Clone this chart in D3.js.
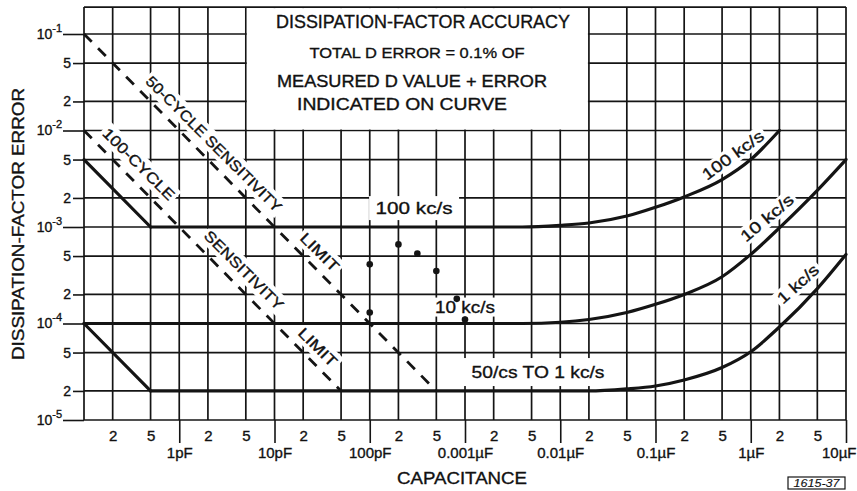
<!DOCTYPE html>
<html><head><meta charset="utf-8">
<script src="https://cdn.jsdelivr.net/npm/d3@7"></script>
<style>
body{margin:0;background:#fff}
text{font-family:"Liberation Sans",Arial,sans-serif;fill:#111;stroke:#111;stroke-width:0.35px}
</style>
</head><body><svg id="c" width="857" height="491"></svg>
<script>
// ---------- data (capacitance in pF, dissipation-factor error) ----------
const capDecades = [1, 10, 100, 1000, 10000, 100000, 1000000, 10000000];
const capDecadeLabels = ["1pF", "10pF", "100pF", "0.001µF", "0.01µF", "0.1µF", "1µF", "10µF"];
const capMinor = [0.2, 0.5, 2, 5, 20, 50, 200, 500, 2000, 5000, 20000, 50000, 200000, 500000, 2000000, 5000000];
const capMinorLabels = ["2", "5", "2", "5", "2", "5", "2", "5", "2", "5", "2", "5", "2", "5", "2", "5"];
const dDecades = [1e-5, 1e-4, 1e-3, 1e-2, 1e-1];
const dDecadeExp = ["-5", "-4", "-3", "-2", "-1"];
const dMinor = [2e-5, 5e-5, 2e-4, 5e-4, 2e-3, 5e-3, 2e-2, 5e-2];
const dMinorLabels = ["2", "5", "2", "5", "2", "5", "2", "5"];

// 100 kc/s curve
const cap100k = [0.1, 0.5, 4000, 10000, 20000, 50000, 100000, 200000, 500000, 1000000, 2000000];
const d100k   = [5e-3, 1e-3, 1e-3, 1.04e-3, 1.1e-3, 1.3e-3, 1.6e-3, 2.05e-3, 3.1e-3, 5e-3, 1e-2];
// 10 kc/s curve
const cap10k = [0.1, 4000, 10000, 20000, 50000, 100000, 200000, 500000, 1000000, 2000000, 5000000, 10000000];
const d10k   = [1e-4, 1e-4, 1.03e-4, 1.1e-4, 1.3e-4, 1.58e-4, 2e-4, 3.05e-4, 5.2e-4, 9.8e-4, 2.4e-3, 5e-3];
// 50 c/s to 1 kc/s curve
const cap1k = [0.1, 0.5, 20000, 50000, 100000, 200000, 500000, 1000000, 2000000, 5000000, 10000000];
const d1k   = [1e-4, 2e-5, 2e-5, 2.1e-5, 2.25e-5, 2.6e-5, 3.5e-5, 5.1e-5, 9.2e-5, 2.3e-4, 5.2e-4];
// sensitivity limits (dashed)
const cap50c = [0.1, 500];
const d50c   = [1e-1, 2e-5];
const cap100c = [0.1, 50];
const d100c   = [1e-2, 2e-5];
// measured points
const capDots = [100, 200, 316, 500, 820, 1000, 100];
const dDots   = [4.1e-4, 6.6e-4, 5.3e-4, 3.5e-4, 1.8e-4, 1.1e-4, 1.3e-4];

// ---------- chart ----------
const svg = d3.select("#c");
const x = d3.scaleLog().domain([0.1, 1e7]).range([84, 846]);
const y = d3.scaleLog().domain([1e-5, 1e-1]).range([420, 34]);
const yTop = y(0.19);
const ink = "#141414";

// grid
const gx = [0.1, ...capDecades, ...capMinor];
const gy = [...dDecades, ...dMinor];
const grid = svg.append("g").attr("stroke", ink).attr("stroke-width", 1.7);
gx.forEach(v => grid.append("line").attr("x1", x(v)).attr("x2", x(v)).attr("y1", yTop).attr("y2", y(1e-5)));
gy.forEach(v => grid.append("line").attr("x1", x(0.1)).attr("x2", x(1e7)).attr("y1", y(v)).attr("y2", y(v)));
grid.append("line").attr("x1", x(0.1)).attr("x2", x(1e7)).attr("y1", yTop).attr("y2", yTop);

// title box (white, bounded by grid lines)
svg.append("rect").attr("x", x(5) + 1).attr("y", yTop + 1)
  .attr("width", x(20000) - x(5) - 2).attr("height", y(1e-2) - yTop - 2).attr("fill", "#fff");

// white backgrounds behind labels
function bgRect(cx, cy, w, h, ang) {
  svg.append("rect").attr("x", -w / 2).attr("y", -h / 2).attr("width", w).attr("height", h)
    .attr("fill", "#fff").attr("transform", `translate(${cx},${cy}) rotate(${ang})`);
}
const labels = [
  {t: "100 kc/s", c: 292, d: 1.57e-3, a: 0, w: 77, fs: 17, bw: 90, bh: 24},
  {t: "10 kc/s", c: 1000, d: 1.48e-4, a: 0, w: 60, fs: 17, bw: 66, bh: 19},
  {t: "50/cs  TO  1 kc/s", c: 5840, d: 3.14e-5, a: 0, w: 133, fs: 17, bw: 176, bh: 28},
  {t: "100 kc/s", c: 6.5e5, d: 5.57e-3, a: -36, w: 72, fs: 16, bw: 78, bh: 18},
  {t: "10 kc/s", c: 1.48e6, d: 1.24e-3, a: -40, w: 64, fs: 16, bw: 70, bh: 18},
  {t: "1 kc/s", c: 3.13e6, d: 2.57e-4, a: -42, w: 50, fs: 16, bw: 56, bh: 18},
  {t: "50-CYCLE SENSITIVITY", c: 2.32, d: 7.3e-3, a: 45, w: 185, fs: 15, bw: 190, bh: 20},
  {t: "LIMIT", c: 30, d: 5.5e-4, a: 45, w: 48, fs: 15, bw: 54, bh: 20},
  {t: "100-CYCLE", c: 0.378, d: 4.5e-3, a: 45, w: 95, fs: 15, bw: 100, bh: 20},
  {t: "SENSITIVITY", c: 4.79, d: 3.58e-4, a: 45, w: 105, fs: 15, bw: 110, bh: 20},
  {t: "LIMIT", c: 28.6, d: 5.7e-5, a: 45, w: 48, fs: 15, bw: 54, bh: 20}
];
labels.forEach(l => bgRect(x(l.c), y(l.d), l.bw, l.bh, l.a));

// curves
const line = d3.line().x(d => x(d[0])).y(d => y(d[1]));
const mono = d3.line().x(d => x(d[0])).y(d => y(d[1])).curve(d3.curveMonotoneX);
function drawCurve(caps, ds, knee) {
  const pts = caps.map((c, i) => [c, ds[i]]);
  const g = svg.append("g").attr("fill", "none").attr("stroke", ink).attr("stroke-width", 3.2).attr("stroke-linecap", "round");
  if (knee > 0) g.append("path").attr("d", line(pts.slice(0, knee + 1)));
  g.append("path").attr("d", mono(pts.slice(knee)));
}
drawCurve(cap100k, d100k, 1);
drawCurve(cap10k, d10k, 0);
drawCurve(cap1k, d1k, 1);

function drawDash(caps, ds) {
  svg.append("path").attr("d", line(caps.map((c, i) => [c, ds[i]])))
    .attr("fill", "none").attr("stroke", ink).attr("stroke-width", 2.8).attr("stroke-dasharray", "11,9");
}
drawDash(cap50c, d50c);
drawDash(cap100c, d100c);

// measured points
svg.append("g").selectAll("circle").data(capDots).join("circle")
  .attr("cx", (c) => x(c)).attr("cy", (c, i) => y(dDots[i])).attr("r", 3.3).attr("fill", ink);

// labels text
labels.forEach(l => {
  svg.append("text").attr("transform", `translate(${x(l.c)},${y(l.d)}) rotate(${l.a})`)
    .attr("text-anchor", "middle").attr("dominant-baseline", "central")
    .attr("font-size", l.fs).attr("textLength", l.w).attr("lengthAdjust", "spacingAndGlyphs").text(l.t);
});

// axes
const axB = svg.append("g").attr("transform", `translate(0,${y(1e-5)})`)
  .call(d3.axisBottom(x).tickValues(capDecades).tickSize(23).tickPadding(4)
    .tickFormat((d, i) => capDecadeLabels[i]));
const axB2 = svg.append("g").attr("transform", `translate(0,${y(1e-5)})`)
  .call(d3.axisBottom(x).tickValues(capMinor).tickSize(0).tickPadding(10)
    .tickFormat((d, i) => capMinorLabels[i]));
const axL = svg.append("g").attr("transform", `translate(${x(0.1)},0)`)
  .call(d3.axisLeft(y).tickValues(dDecades).tickSize(21).tickPadding(1).tickFormat(() => ""));
const axL2 = svg.append("g").attr("transform", `translate(${x(0.1)},0)`)
  .call(d3.axisLeft(y).tickValues(dMinor).tickSize(11).tickPadding(2)
    .tickFormat((d, i) => dMinorLabels[i]));
[axB, axB2, axL, axL2].forEach(a => {
  a.select(".domain").remove();
  a.selectAll("line").attr("stroke", ink).attr("stroke-width", 1.6);
  a.selectAll("text").attr("font-size", 15).attr("fill", ink).style("font-family", "'Liberation Sans',Arial,sans-serif");
});
axB.selectAll(".tick text").filter((d, i) => i === capDecades.length - 1)
  .attr("text-anchor", "end").attr("dx", 10);
axL2.selectAll("text").attr("font-size", 14);
axL.selectAll(".tick text").each(function (d, i) {
  const t = d3.select(this).attr("font-size", 14);
  t.append("tspan").text("10");
  t.append("tspan").attr("dy", -7).attr("font-size", 11).text(dDecadeExp[i]);
});

// axis titles
svg.append("text").attr("transform", "translate(18,224) rotate(-90)")
  .attr("text-anchor", "middle").attr("dominant-baseline", "central")
  .attr("font-size", 17).attr("textLength", 272).attr("lengthAdjust", "spacingAndGlyphs")
  .text("DISSIPATION-FACTOR ERROR");
svg.append("text").attr("x", 462).attr("y", 484).attr("text-anchor", "middle")
  .attr("font-size", 17).attr("textLength", 130).attr("lengthAdjust", "spacingAndGlyphs")
  .text("CAPACITANCE");

// title box text
const titleLines = [
  {t: "DISSIPATION-FACTOR ACCURACY", cx: 423, by: 28, fs: 18, w: 294},
  {t: "TOTAL D ERROR = 0.1% OF", cx: 417, by: 58, fs: 15, w: 215},
  {t: "MEASURED  D  VALUE + ERROR", cx: 412, by: 87, fs: 16, w: 270},
  {t: "INDICATED  ON  CURVE", cx: 402, by: 110, fs: 16, w: 210}
];
titleLines.forEach(l => svg.append("text").attr("x", l.cx).attr("y", l.by).attr("text-anchor", "middle")
  .attr("font-size", l.fs).attr("textLength", l.w).attr("lengthAdjust", "spacingAndGlyphs").text(l.t));

// drawing number
svg.append("rect").attr("x", 788).attr("y", 477).attr("width", 57).attr("height", 12)
  .attr("fill", "none").attr("stroke", ink).attr("stroke-width", 1.2);
svg.append("text").attr("x", 816.5).attr("y", 487).attr("text-anchor", "middle")
  .attr("font-size", 10).attr("font-style", "italic").attr("textLength", 46)
  .attr("lengthAdjust", "spacingAndGlyphs").style("stroke-width", "0.1px").text("1615-37");
</script>
</body></html>
